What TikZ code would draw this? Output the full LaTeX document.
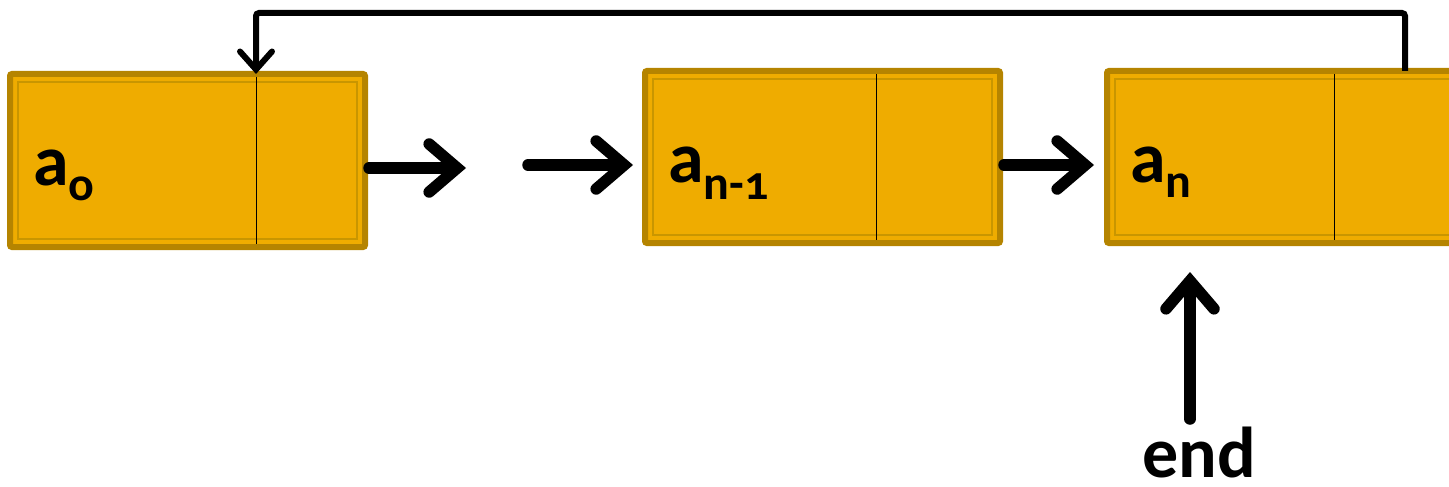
\documentclass[tikz,border=0pt]{standalone}
\usepackage{fontspec}
\setmainfont{Carlito}[Numbers=OldStyle]
\usetikzlibrary{arrows.meta}
\definecolor{boxfill}{HTML}{EFAC00}
\definecolor{boxedge}{HTML}{B58400}
\definecolor{boxinner}{HTML}{C99600}
\tikzset{
  cell/.style={fill=boxfill, draw=boxedge, line width=6pt, rounded corners=2pt},
  divider/.style={draw=black, line width=1pt},
  bigarrow/.style={line width=11.5pt, line cap=round,
    -{Straight Barb[length=28pt, width=48pt, line cap=round, line join=miter]}},
  backarrow/.style={line width=6pt, rounded corners=3pt,
    -{Straight Barb[length=18pt, width=32pt, line cap=round, line join=miter]}},
  lbl/.style={font=\fontsize{72}{72}\bfseries\selectfont, anchor=base west, inner sep=0pt},
}
\begin{document}
\begin{tikzpicture}[x=1pt, y=-1pt]
\useasboundingbox (0,0) rectangle (1449,487);
% boxes
\foreach \l/\r/\t/\b/\d/\n in {10/365/74/247/256/A, 645/1000/71/243/876/B, 1107/1470/71/243/1334/C}{
  \path[cell] (\l,\t) rectangle (\r,\b);
  \draw[boxinner, line width=1.5pt] (\l+8,\t+8) rectangle (\r-8,\b-8);
  \draw[divider] (\d,\t+3) -- (\d,\b-3);
}
\coordinate (Aright) at (369,168);
\coordinate (Atop) at (256,74);
\coordinate (Bleft) at (645,165);
\coordinate (Bright) at (1004,165);
\coordinate (Cleft) at (1107,165);
\coordinate (Ctop) at (1405,71);
\coordinate (gapA) at (466,168);
\coordinate (gapB) at (528,165);
\coordinate (Bin) at (633,165);
\coordinate (Cin) at (1094,165);
\coordinate (endtip) at (1190,272);
\node[lbl, text depth=0pt] (endlbl) at (1142,477) {end};
\coordinate (endtail) at (1190,419);
% labels
\node[lbl] (a0) at (33,185) {a\textsubscript{\fontsize{48}{48}\selectfont o}};
\node[lbl] (an1) at (668,182) {a\textsubscript{\fontsize{48}{48}\selectfont n-1}};
\node[lbl] (an) at (1130,182) {a\textsubscript{\fontsize{48}{48}\selectfont n}};
% arrows
\draw[bigarrow] (Aright) -- (gapA);
\draw[bigarrow] (gapB) -- (Bin);
\draw[bigarrow] (Bright) -- (Cin);
\draw[bigarrow] (endtail) -- (endtip);
\draw[backarrow] (Ctop) -- (1405,13) -- (256,13) -- (Atop);
\end{tikzpicture}
\end{document}
